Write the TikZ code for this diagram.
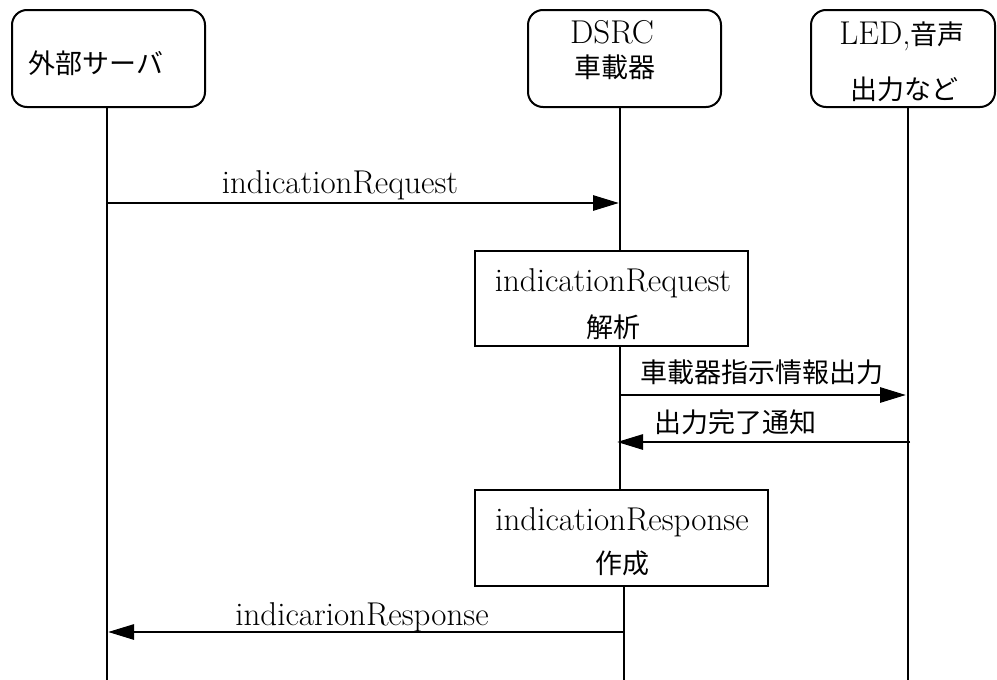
\documentclass[tikz,border=0pt]{standalone}
\usepackage{fontspec}
\newfontfamily\jpfont{Noto Sans CJK JP}
\usetikzlibrary{arrows.meta}
\begin{document}
\begin{tikzpicture}[x=0.5pt,y=-0.5pt,
  actor/.style={draw, line width=1pt, rounded corners=7.5pt, minimum height=48.5pt, inner sep=0pt},
  proc/.style={draw, line width=1pt, fill=white, inner sep=0pt},
  life/.style={line width=0.75pt},
  msg/.style={line width=1.4pt, -{Triangle[length=13pt,width=7.5pt]}},
  ltxt/.style={inner sep=0pt, anchor=base, font=\fontsize{16.5}{19}\selectfont},
  jtxt/.style={inner sep=0pt, font=\fontsize{13.5}{16}\jpfont}]
\useasboundingbox (0,0) rectangle (997,680);
% actors
\node[actor, minimum width=96.5pt] (srv) at (108.5,58.5) {};
\node[actor, minimum width=96.5pt] (dsrc) at (624.5,58.5) {};
\node[actor, minimum width=92pt] (led) at (903,58.5) {};
\node[jtxt] (srvt) at (96,63) {外部サーバ};
\node[ltxt] (dsrct1) at (612,43) {DSRC};
\node[jtxt] (dsrct2) at (615,67) {車載器};
\node[ltxt] (ledt1) at (902,45) {LED,{\fontsize{13.5}{16}\jpfont 音声}};
\node[jtxt] (ledt2) at (904,89) {出力など};
% lifeline coordinates
\coordinate (a1) at (107,107);
\coordinate (a2) at (107,680);
\coordinate (b1) at (620,107);
\coordinate (b2) at (620,490);
\coordinate (b3) at (624,586);
\coordinate (b4) at (624,680);
\coordinate (c1) at (908,107);
\coordinate (c2) at (908,680);
\draw[life] (a1) -- (a2);
\draw[life] (b1) -- (b2);
\draw[life] (b3) -- (b4);
\draw[life] (c1) -- (c2);
% processing boxes
\node[proc, minimum width=136.5pt, minimum height=47.5pt] (ana) at (611.5,298.5) {};
\node[ltxt] (anat1) at (613,291) {indicationRequest};
\node[jtxt] (anat2) at (613,327) {解析};
\node[proc, minimum width=146.5pt, minimum height=48pt] (resp) at (621.5,538) {};
\node[ltxt] (respt1) at (622,530) {indicationResponse};
\node[jtxt] (respt2) at (622,563) {作成};
% messages
\coordinate (m1s) at (107,203);
\coordinate (m1e) at (619,203);
\draw[msg] (m1s) -- (m1e);
\node[ltxt] (m1t) at (340,193) {indicationRequest};
\coordinate (m2s) at (620,395);
\coordinate (m2e) at (906,395);
\draw[msg] (m2s) -- (m2e);
\node[jtxt] (m2t) at (762,372) {車載器指示情報出力};
\coordinate (m3s) at (910,442);
\coordinate (m3e) at (617,442);
\draw[msg] (m3s) -- (m3e);
\node[jtxt] (m3t) at (735,422) {出力完了通知};
\coordinate (m4s) at (624,632);
\coordinate (m4e) at (108,632);
\draw[msg] (m4s) -- (m4e);
\node[ltxt] (m4t) at (362,625) {indicarionResponse};
\end{tikzpicture}
\end{document}
